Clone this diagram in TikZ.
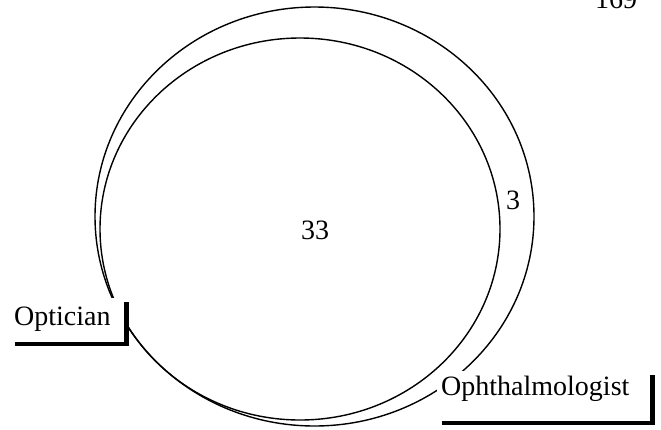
\documentclass[tikz,border=0pt]{standalone}
\usepackage{fontspec}
\setmainfont{Liberation Serif}
\usetikzlibrary{shadows}

\begin{document}
\begin{tikzpicture}[x=1pt, y=-1pt,
    every node/.style={font=\fontsize{28}{32}\selectfont},
    ring/.style={line width=1.4pt},
    labelbox/.style={fill=white, inner xsep=4pt, inner ysep=0pt, align=left, anchor=north west,
        general shadow={fill=black, shadow xshift=5pt, shadow yshift=-4pt}}]
    \useasboundingbox (0,0) rectangle (661,429);
    \draw[ring] (314.5,216.5) ellipse [x radius=219.5, y radius=209.5];
    \draw[ring] (300,229) ellipse [x radius=200, y radius=191];
    \node (both) at (315,230) {33};
    \node (ophonly) at (513,200) {3};
    \node[labelbox, text width=106pt, text height=27pt, text depth=17pt] (optician) at (10,298) {Optician};
    \node[labelbox, text width=205pt, text height=24pt, text depth=26pt] (ophthal) at (437,371) {Ophthalmologist};
    \node[anchor=base west, inner sep=0pt] (page) at (595,8) {169};
\end{tikzpicture}
\end{document}
